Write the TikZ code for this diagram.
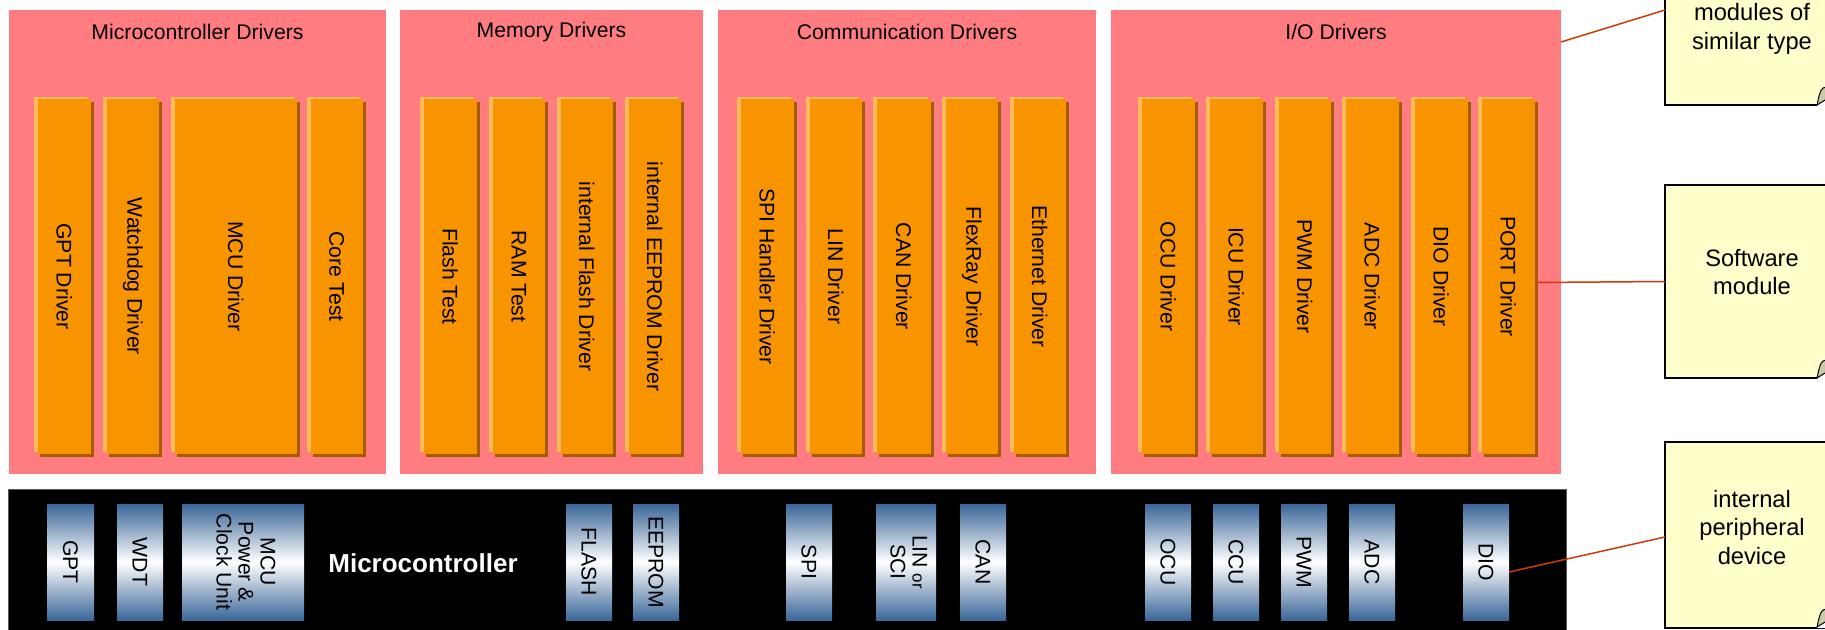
\documentclass[tikz,border=0pt]{standalone}
\usepackage{fontspec}
\setmainfont{Liberation Sans}
\usetikzlibrary{shadows}
\definecolor{grouppink}{HTML}{FF7C80}
\definecolor{modorange}{HTML}{F79400}
\definecolor{modlight}{HTML}{FFBA5A}
\definecolor{modbrown}{HTML}{A35C00}
\definecolor{chipblue}{HTML}{3A6698}
\definecolor{noteyellow}{HTML}{FFFFCC}
\definecolor{foldgray}{HTML}{C9C9A6}
\definecolor{connred}{HTML}{CC3A0A}
\tikzset{
  group/.style={fill=grouppink, inner sep=0pt, outer sep=0pt, anchor=north west, minimum height=464pt},
  heading/.style={font=\fontsize{21.2}{25}\selectfont, text=black, inner sep=0pt},
  modbox/.style={fill=modorange, inner sep=0pt, outer sep=0pt, minimum height=355pt,
    font=\fontsize{21.2}{25}\selectfont,
    general shadow={fill=modlight, shadow xshift=-3.5pt, shadow yshift=2pt},
    general shadow={fill=modbrown, shadow xshift=2.5pt, shadow yshift=-2.5pt}},
  chip/.style={top color=chipblue, bottom color=chipblue, middle color=white,
    inner sep=0pt, outer sep=0pt, minimum height=116pt, font=\fontsize{21.2}{22}\selectfont},
  note/.style={fill=noteyellow, draw=black, line width=1.5pt, inner sep=0pt, outer sep=0pt,
    anchor=north west, minimum width=180pt},
  notetext/.style={align=center, font=\fontsize{23.7}{28.5}\selectfont, inner sep=0pt},
  conn/.style={draw=connred, line width=1.5pt},
}
\newcommand{\drvmod}[4]{%
  \pgfmathsetmacro\modw{#3-#2-3.5}%
  \pgfmathsetmacro\modx{(#2+3.5+#3)/2}%
  \node[modbox, minimum width=\modw pt] (#1) at (\modx,276.5) {\rotatebox{-90}{#4}};}
\newcommand{\chipnode}[4]{%
  \pgfmathsetmacro\chipw{#3-#2}%
  \pgfmathsetmacro\chipx{(#2+#3)/2}%
  \node[chip, minimum width=\chipw pt] (#1) at (\chipx,562) {\rotatebox{-90}{#4}};}
\newcommand{\notefold}[1]{%
  \fill[white] (1817,#1+1) -- (1830,#1-22) -- (1830,#1+1) -- cycle;
  \filldraw[fill=foldgray, draw=black, line width=1pt] (1817,#1) .. controls (1819,#1-9) and (1820,#1-15) .. (1823,#1-17) -- (1830,#1-19) -- (1830,#1-8) -- cycle;}
\begin{document}
\begin{tikzpicture}[x=1pt,y=-1pt]
\useasboundingbox (0,0) rectangle (1825,629);
\clip (0,0) rectangle (1825,629);
% groups
\node[group, minimum width=377pt] (g1) at (9,10) {};
\node[group, minimum width=303pt] (g2) at (400,10) {};
\node[group, minimum width=378pt] (g3) at (718,10) {};
\node[group, minimum width=450pt] (g4) at (1111,10) {};
\path (g1.north) ++(0,22) node[heading] {Microcontroller Drivers};
\path (g2.north) ++(0,22) node[heading] {Memory Drivers};
\path (g3.north) ++(0,22) node[heading] {Communication Drivers};
\path (g4.north) ++(0,22) node[heading] {I/O Drivers};
% driver modules
\drvmod{gptd}{34}{91}{GPT Driver}
\drvmod{wdgd}{103}{159}{Watchdog Driver}
\drvmod{mcud}{171}{297}{MCU Driver}
\drvmod{cort}{307}{363}{Core Test}
\drvmod{flst}{420}{477}{Flash Test}
\drvmod{ramt}{489}{545}{RAM Test}
\drvmod{ifld}{557}{613}{internal Flash Driver}
\drvmod{ieed}{625}{681}{internal EEPROM Driver}
\drvmod{spid}{737}{794}{SPI Handler Driver}
\drvmod{lind}{806}{862}{LIN Driver}
\drvmod{cand}{873}{931}{CAN Driver}
\drvmod{frd}{942}{998}{FlexRay Driver}
\drvmod{ethd}{1010}{1066}{Ethernet Driver}
\drvmod{ocud}{1138}{1195}{OCU Driver}
\drvmod{icud}{1206}{1263}{ICU Driver}
\drvmod{pwmd}{1275}{1331}{PWM Driver}
\drvmod{adcd}{1342}{1399}{ADC Driver}
\drvmod{diod}{1411}{1468}{DIO Driver}
\drvmod{port}{1478}{1535}{PORT Driver}
% microcontroller bar
\node[fill=black, draw=black!65, line width=1pt, anchor=north west, inner sep=0pt, outer sep=0pt,
  minimum width=1558pt, minimum height=150pt] (mcbar) at (8,489) {};
\node[font=\bfseries\fontsize{26}{30}\selectfont, text=white, inner sep=0pt] (mclabel) at (423,563) {Microcontroller};
\chipnode{gptc}{47}{94}{GPT}
\chipnode{wdtc}{117}{163}{WDT}
\chipnode{mcuc}{182}{304}{\begin{tabular}{@{}c@{}}MCU\\Power \&\\Clock Unit\end{tabular}}
\chipnode{flac}{566}{612}{FLASH}
\chipnode{eepc}{633}{679}{EEPROM}
\chipnode{spic}{786}{832}{SPI}
\chipnode{linc}{876}{936}{\begin{tabular}{@{}c@{}}LIN {\fontsize{17}{20}\selectfont or}\\SCI\end{tabular}}
\chipnode{canc}{960}{1006}{CAN}
\chipnode{ocuc}{1145}{1191}{OCU}
\chipnode{ccuc}{1213}{1259}{CCU}
\chipnode{pwmc}{1281}{1327}{PWM}
\chipnode{adcc}{1349}{1395}{ADC}
\chipnode{dioc}{1463}{1509}{DIO}
% notes
\node[note, minimum height=193pt] (n1) at (1665,-88) {};
\notefold{105}
\node[notetext] (t1) at (1752,29) {modules of\\similar type};
\node[note, minimum height=193pt] (n2) at (1665,185) {};
\notefold{378}
\node[notetext] (t2) at (1752,272) {Software\\module};
\node[note, minimum height=186pt] (n3) at (1665,442) {};
\notefold{627}
\node[notetext] (t3) at (1752,527.5) {internal\\peripheral\\device};
% connectors
\draw[conn] ([yshift=-32pt]g4.north east) -- ([yshift=95pt]n1.south west);
\draw[conn] ([yshift=-6pt]port.east) -- (n2.west);
\draw[conn] ([yshift=-10pt]dioc.east) -- ([yshift=-2pt]n3.west);
\end{tikzpicture}
\end{document}
